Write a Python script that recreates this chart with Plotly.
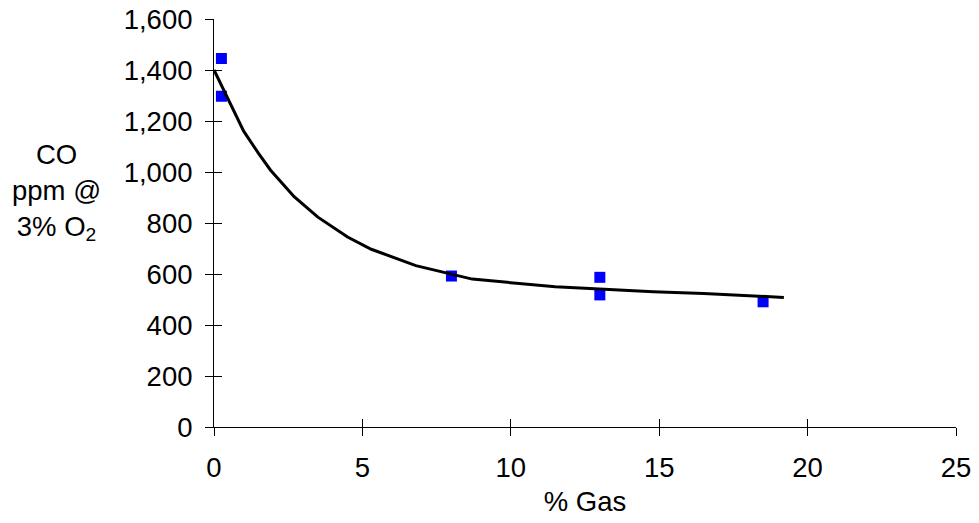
import plotly.graph_objects as go

# Measured data points
gas_pct = [0.25, 0.25, 8.0, 13.0, 13.0, 18.5]
co_ppm = [1445, 1297, 592, 587, 518, 491]

# Trend curve
trend_x = [0, 1.0, 1.5, 1.9, 2.7, 3.5, 4.5, 5.3, 6.8, 8.7, 11.5, 14.8, 16.5, 19.2]
trend_y = [1400, 1160, 1073, 1008, 903, 823, 745, 697, 633, 580, 550, 530, 524, 508]

x_ticks = [0, 5, 10, 15, 20, 25]
y_ticks = [0, 200, 400, 600, 800, 1000, 1200, 1400, 1600]

FONT = "Liberation Sans, Arial, sans-serif"
FS = 27.5

W, H = 979, 523
ML, MR, MT, MB = 214, 23, 19, 96

fig = go.Figure()
fig.add_trace(go.Scatter(
    x=trend_x, y=trend_y, mode="lines",
    line=dict(color="black", width=3),
    xaxis="x2", yaxis="y2", hoverinfo="skip", showlegend=False,
))
fig.add_trace(go.Scatter(
    x=gas_pct, y=co_ppm, mode="markers",
    marker=dict(symbol="square", color="#0000FF", size=11, line=dict(width=0)),
    showlegend=False,
))

common_x = dict(range=[0, 25], tickvals=x_ticks, showgrid=False, zeroline=False,
                showline=True, linecolor="black", linewidth=1, automargin=False,
                ticklen=8, tickcolor="black", tickwidth=1)
common_y = dict(range=[0, 1600], tickvals=y_ticks, showgrid=False, zeroline=False,
                showline=True, linecolor="black", linewidth=1, automargin=False,
                ticklen=8, tickcolor="black", tickwidth=1)

plot_w = W - ML - MR
plot_h = H - MT - MB

fig.update_layout(
    template="none",
    width=W, height=H,
    margin=dict(l=ML, r=MR, t=MT, b=MB, pad=0),
    paper_bgcolor="white", plot_bgcolor="white",
    font=dict(family=FONT, size=FS, color="black"),
    xaxis=dict(**common_x, ticks="outside", ticklabelstandoff=8,
               ticklabeloverflow="allow",
               tickfont=dict(family=FONT, size=FS),
               title=dict(text="% Gas", standoff=9, font=dict(family=FONT, size=FS))),
    yaxis=dict(**common_y, ticks="outside", tickformat=",d", ticklabelstandoff=7,
               ticklabeloverflow="allow",
               tickfont=dict(family=FONT, size=FS)),
    xaxis2=dict(**common_x, ticks="inside", overlaying="x", showticklabels=False),
    yaxis2=dict(**common_y, ticks="inside", overlaying="y", showticklabels=False),
    annotations=[dict(
        text="CO<br>ppm @<br>3% O<sub>2</sub>",
        x=(56 - ML) / plot_w, y=(H - MB - 192) / plot_h,
        xref="paper", yref="paper", xanchor="center", yanchor="middle",
        showarrow=False, font=dict(family=FONT, size=FS), align="center",
    )],
)

fig.write_html("out.html", config={"displayModeBar": False},
               post_script="document.body.style.margin='0';")
